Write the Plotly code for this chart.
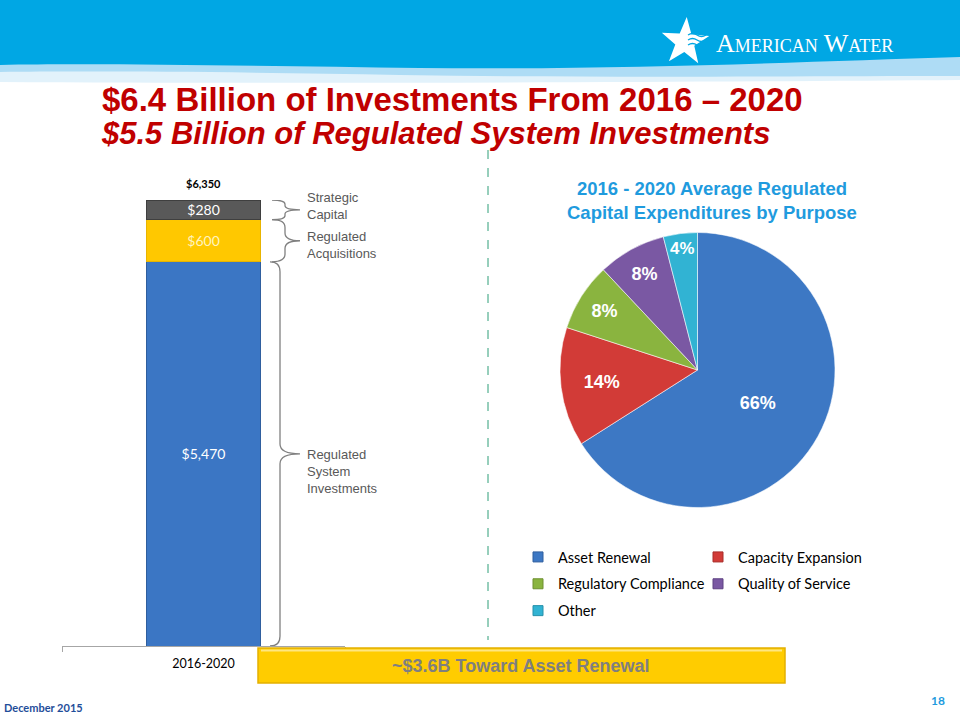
import math
import plotly.graph_objects as go

# ---------------- data ----------------
bar_category = ["2016-2020"]
bar_segments = ["Regulated System Investments", "Regulated Acquisitions", "Strategic Capital"]
bar_values = [5470, 600, 280]
brace_labels = ["Regulated<br>System<br>Investments", "Regulated<br>Acquisitions", "Strategic<br>Capital"]

pie_labels = ["Asset Renewal", "Capacity Expansion", "Regulatory Compliance", "Quality of Service", "Other"]
pie_values = [66, 14, 8, 8, 4]

title_text = "$6.4 Billion of Investments From 2016 \u2013 2020"
subtitle_text = "$5.5 Billion of Regulated System Investments"
pie_title = "2016 - 2020 Average Regulated<br>Capital Expenditures by Purpose"
footer_left = "December 2015"
page_number = "18"

# ---------------- styles ----------------
W, H = 960, 720
bar_colors = ["#3B76C4", "#FFC800", "#595959"]
bar_line_colors = ["#2F5E9E", "#E8B400", "#3F3F3F"]
bar_text_colors = ["white", "#FFF4BF", "white"]
pie_colors = ["#3D78C4", "#D23B37", "#8AB43F", "#7A58A3", "#31B3D3"]
pie_line = ["#2F5E9E", "#A92C29", "#6E9030", "#5E4282", "#2690AA"]
SANS = "Liberation Sans, Arial, sans-serif"
CAL = "Lato, Noto Sans, sans-serif"


def px(x):
    return x / W


def py(y):
    return 1 - y / H


def P(s):
    out = []
    isx = True
    for t in s.replace(",", " ").split():
        if t.isalpha():
            out.append(t)
            isx = True
        else:
            v = float(t)
            out.append(f"{px(v):.5f}" if isx else f"{py(v):.5f}")
            isx = not isx
    return " ".join(out)


fig = go.Figure()

# stacked bar
for name, val, c, lc, tc in zip(bar_segments, bar_values, bar_colors, bar_line_colors, bar_text_colors):
    fig.add_trace(go.Bar(
        x=bar_category, y=[val], name=name,
        marker=dict(color=c, line=dict(color=lc, width=1)),
        text=[f"${val:,}"], textposition="inside", insidetextanchor="middle",
        textangle=0, constraintext="none",
        textfont=dict(family=CAL, size=14, color=tc),
        showlegend=False, hoverinfo="skip",
    ))

total = sum(bar_values)

# pie
fig.add_trace(go.Pie(
    labels=pie_labels, values=pie_values, sort=False, direction="clockwise", rotation=0,
    domain=dict(x=[px(560), px(835)], y=[py(508), py(232)]),
    marker=dict(colors=pie_colors, line=dict(color="rgba(255,255,255,0.55)", width=1)),
    textinfo="percent", textposition="inside", insidetextorientation="horizontal",
    textfont=dict(family=SANS, size=18, color="white", weight="bold"),
    showlegend=False, hoverinfo="label+percent",
))

# legend entries (two columns, row-major like the original)
for i, (lab, col, lc) in enumerate(zip(pie_labels, pie_colors, pie_line)):
    fig.add_trace(go.Scatter(
        x=[None], y=[None], mode="markers", name=lab,
        marker=dict(symbol="square", size=10, color=col, line=dict(color=lc, width=1)),
        legend="legend" if i % 2 == 0 else "legend2",
        legendgroup=lab, showlegend=True,
    ))

shapes = []
# header background
shapes.append(dict(type="path", xref="paper", yref="paper", layer="below", line=dict(width=0),
                   fillcolor="#E2F2FB",
                   path=P("M 0 0 L 960 0 L 960 80 C 700 82 300 84 0 82 Z")))
shapes.append(dict(type="path", xref="paper", yref="paper", layer="below", line=dict(width=0),
                   fillcolor="#AEDCF5",
                   path=P("M 0 0 L 960 0 L 960 76 C 800 76 600 78 400 75 C 250 72 100 71 0 72 Z")))
shapes.append(dict(type="path", xref="paper", yref="paper", layer="below", line=dict(width=0),
                   fillcolor="#00A7E4",
                   path=P("M 0 0 L 960 0 L 960 57 C 800 62 620 70 420 68 C 260 66 100 63 0 65 Z")))

# star logo
cx, cy, R, r = 685, 42, 25, 10
pts = []
for k in range(10):
    ang = math.radians(-90 + k * 36 + 4)
    rad = R if k % 2 == 0 else r
    pts.append((cx + rad * math.cos(ang), cy + rad * math.sin(ang)))
star = "M " + " L ".join(f"{x:.2f} {y:.2f}" for x, y in pts) + " Z"
shapes.append(dict(type="path", xref="paper", yref="paper", line=dict(width=0),
                   fillcolor="white", path=P(star)))
for dy in (-5, 0, 5):
    yy = cy - 2 + dy
    shapes.append(dict(type="path", xref="paper", yref="paper", line=dict(color="#00A7E4", width=1.3),
                       path=P(f"M 688 {yy} C 691 {yy-2} 694 {yy-2} 697 {yy} C 700 {yy+2} 703 {yy+2} 706 {yy}")))

# dashed divider
shapes.append(dict(type="line", xref="paper", yref="paper", x0=px(488), x1=px(488), y0=py(150), y1=py(640),
                   line=dict(color="#2E9E78", width=1, dash="dash")))


# braces
def brace(y0, y1, xe, xs, xt, r):
    ym = (y0 + y1) / 2
    xe, xs, xt = px(xe), px(xs), px(xt)
    return (f"M {xe} {y1} Q {xs} {y1} {xs} {y1 - r} L {xs} {ym + r} Q {xs} {ym} {xt} {ym} "
            f"Q {xs} {ym} {xs} {ym - r} L {xs} {y0 + r} Q {xs} {y0} {xe} {y0}")


bottoms = [sum(bar_values[:i]) for i in range(len(bar_values))]
brace_geo = [(270, 280, 300, 140), (272, 285, 300, 110), (272, 285, 300, 60)]
label_shift = [9, -4, 4]
for b, v, (xe, xs, xt, rr) in zip(bottoms, bar_values, brace_geo):
    shapes.append(dict(type="path", xref="paper", yref="y", line=dict(color="#808080", width=1.3),
                       path=brace(b, b + v, xe, xs, xt, rr)))

# asset renewal banner
shapes.append(dict(type="rect", xref="paper", yref="paper", layer="above",
                   x0=px(258), x1=px(785), y0=py(683), y1=py(648),
                   fillcolor="#FFCC00", line=dict(color="#E3B000", width=1.5)))
shapes.append(dict(type="line", xref="paper", yref="paper", layer="above",
                   x0=px(261), x1=px(782), y0=py(650.5), y1=py(650.5),
                   line=dict(color="#FFE680", width=2)))

annotations = []
annotations.append(dict(text="American Water", x=px(714), y=py(43), xref="paper", yref="paper",
                        xanchor="left", yanchor="middle", showarrow=False,
                        font=dict(family="Liberation Serif, DejaVu Serif, serif", size=26, color="white",
                                  variant="small-caps")))
annotations.append(dict(text=f"<b>{title_text}</b>", x=px(452), y=py(100), xref="paper", yref="paper",
                        xanchor="center", yanchor="middle", showarrow=False,
                        font=dict(family=SANS, size=33, color="#C00000")))
annotations.append(dict(text=f"<b><i>{subtitle_text}</i></b>", x=px(435), y=py(133), xref="paper", yref="paper",
                        xanchor="center", yanchor="middle", showarrow=False,
                        font=dict(family=SANS, size=31, color="#C00000")))
annotations.append(dict(text=f"<b>{pie_title}</b>", x=px(712), y=py(200), xref="paper", yref="paper",
                        xanchor="center", yanchor="middle", showarrow=False, align="center",
                        font=dict(family=SANS, size=18.5, color="#1F9BDE")))
annotations.append(dict(text=f"<b>${total:,}</b>", x=bar_category[0], y=total, xref="x", yref="y",
                        xanchor="center", yanchor="bottom", yshift=8, showarrow=False,
                        font=dict(family=CAL, size=11, color="black")))
for b, v, lab, sh in zip(bottoms, bar_values, brace_labels, label_shift):
    multi = lab.count("<br>") >= 2
    annotations.append(dict(text=lab, x=px(305), y=b + v / 2, xref="paper", yref="y",
                            xanchor="left", yanchor="top" if multi else "middle",
                            yshift=sh, showarrow=False, align="left",
                            font=dict(family=SANS, size=13, color="#595959")))
asset_share = pie_values[0] / 100 * bar_values[0] / 1000
annotations.append(dict(text=f"<b>~${asset_share:.1f}B Toward Asset Renewal</b>", x=px(521), y=py(665.5),
                        xref="paper", yref="paper", xanchor="center", yanchor="middle", showarrow=False,
                        font=dict(family=SANS, size=18, color="#7F7F7F")))
annotations.append(dict(text=f"<b>{footer_left}</b>", x=px(2), y=py(707), xref="paper", yref="paper",
                        xanchor="left", yanchor="middle", showarrow=False,
                        font=dict(family=CAL, size=11, color="#1F4E9A")))
annotations.append(dict(text=f"<b>{page_number}</b>", x=px(947), y=py(700), xref="paper", yref="paper",
                        xanchor="right", yanchor="middle", showarrow=False,
                        font=dict(family=CAL, size=12, color="#1F9BDE")))

legend_common = dict(orientation="v", xanchor="left", yanchor="top", bgcolor="rgba(0,0,0,0)",
                     font=dict(family=CAL, size=14.5, color="black"), itemwidth=30,
                     tracegroupgap=5, itemclick=False, itemdoubleclick=False)

fig.update_layout(
    width=W, height=H, margin=dict(l=0, r=0, t=0, b=0),
    paper_bgcolor="white", plot_bgcolor="rgba(0,0,0,0)",
    barmode="stack", bargap=0.597,
    xaxis=dict(domain=[px(62), px(345)], showline=True, linecolor="#A6A6A6", linewidth=1,
               ticks="outside", tickson="boundaries", ticklen=5, tickcolor="#A6A6A6",
               ticklabelstandoff=6,
               tickfont=dict(family=CAL, size=12.5, color="black"), showgrid=False, zeroline=False,
               fixedrange=True),
    yaxis=dict(domain=[py(646), py(200)], range=[0, total], showgrid=False, zeroline=False,
               showticklabels=False, fixedrange=True),
    legend=dict(x=px(518), y=py(541), **legend_common),
    legend2=dict(x=px(698), y=py(541), **legend_common),
    shapes=shapes, annotations=annotations, showlegend=True,
)

fig.write_html("out.html")
